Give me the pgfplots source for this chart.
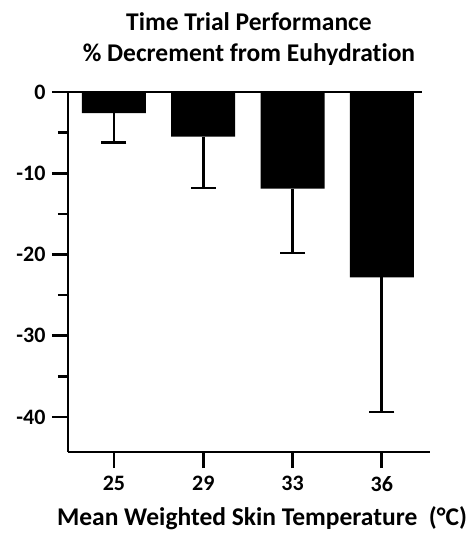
\documentclass[border=0pt]{standalone}
\usepackage{fontspec}
\setmainfont{Carlito}[Ligatures=NoCommon]
\usepackage{pgfplots}
\pgfplotsset{compat=1.18}
\begin{document}
\begin{tikzpicture}
\begin{axis}[
  scale only axis, width=362pt, height=360pt,
  xmin=-0.515, xmax=3.54, ymin=-44.3, ymax=0,
  clip=false,
  axis x line=bottom, axis y line=left,
  axis line style={line width=2.6pt, -},
  xtick={0,1,2,3}, xticklabels={25,29,33,36},
  ytick={-40,-30,-20,-10,0}, yticklabels={-40,-30,-20,-10,0},
  minor ytick={-35,-25,-15,-5},
  tick align=outside, major tick length=16pt, minor tick length=10pt,
  every tick/.style={line width=2.6pt, black},
  ticklabel style={font=\bfseries\fontsize{22}{24}\selectfont},
  xticklabel style={yshift=-5pt},
  yticklabel style={xshift=-3pt},
]
\addplot[ybar, bar width=64pt, fill=black, draw=none,
  error bars/.cd, y dir=minus, y explicit,
  error bar style={line width=2.6pt},
  error mark options={rotate=90, mark size=12.5pt, line width=2.6pt}]
coordinates {
  (0,-2.6) -= (0,3.6)
  (1,-5.5) -= (0,6.3)
  (2,-11.9) -= (0,7.9)
  (3,-22.8) -= (0,16.6)
};
\draw[line width=2.6pt] (axis cs:-0.515,0) -- (axis cs:3.45,0);
\node[font=\bfseries\fontsize{25.5}{31}\selectfont, align=center] at (rel axis cs:0.5,1.148)
  {Time Trial Performance\\\% Decrement from Euhydration};
\node[font=\bfseries\fontsize{25.5}{28}\selectfont] at (rel axis cs:0.536,-0.183)
  {Mean Weighted Skin Temperature\ \ (°C)};
\end{axis}
\pgfresetboundingbox
\path (current axis.south west) ++(-68pt,-81pt) rectangle ++(469pt,533pt);
\end{tikzpicture}
\end{document}
